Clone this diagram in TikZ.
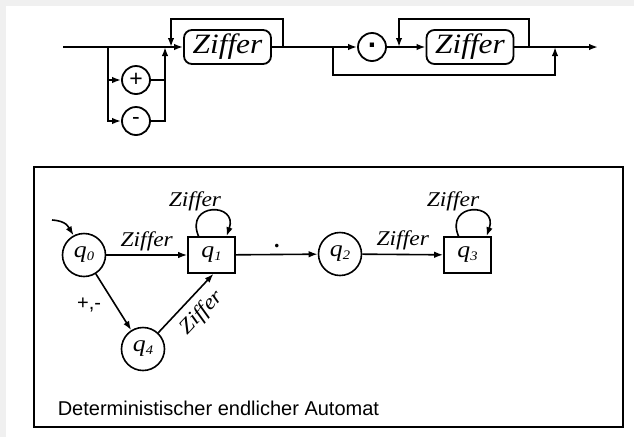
\documentclass[tikz,border=0pt]{standalone}
\usepackage{fontspec}
\setmainfont{Liberation Serif}
\setsansfont{Liberation Sans}
\newfontfamily\zfont[FakeStretch=1.12]{Liberation Serif}
\usetikzlibrary{arrows.meta}
\newcommand{\qsub}[1]{{\zfont\itshape\fontsize{23}{23}\selectfont q\raisebox{-3pt}{\fontsize{13}{13}\selectfont #1}}}
\begin{document}
\begin{tikzpicture}[x=1pt,y=-1pt,line width=1.6pt,
  >={Latex[length=9pt,width=6.5pt]},
  zbox/.style={draw,line width=1.8pt,rounded corners=8pt,minimum width=87pt,minimum height=34pt,inner sep=0pt,font=\zfont\itshape\fontsize{28}{28}\selectfont},
  tcirc/.style={draw,line width=1.8pt,circle,minimum size=28pt,inner sep=0pt,font=\sffamily\fontsize{23}{23}\selectfont},
  cstate/.style={draw,circle,minimum size=43pt,inner sep=0pt},
  rstate/.style={draw,rectangle,minimum width=47pt,minimum height=36pt,inner sep=0pt},
  lab/.style={font=\zfont\itshape\fontsize{21}{21}\selectfont,inner sep=0pt}]
% background
\fill[white] (0,0) rectangle (634,437);
\fill[black!6] (0,0) rectangle (634,6);
\fill[black!6] (0,0) rectangle (6,437);
\useasboundingbox (0,0) rectangle (634,437);

% ---------- syntax diagram ----------
\begin{scope}[line width=1.8pt]
\coordinate (s) at (63,47);
\coordinate (b1) at (108,47);
\coordinate (j1) at (165,47);
\coordinate (l1a) at (283,47);
\coordinate (t1) at (227,19);
\coordinate (l1b) at (171,47);
\coordinate (k) at (333,47);
\coordinate (bot) at (444,75);
\coordinate (j2) at (555,47);
\coordinate (l2a) at (529,47);
\coordinate (t2) at (464,19);
\coordinate (l2b) at (399,47);
\coordinate (e) at (598,47);

\node[zbox] (z1) at (227.5,47) {Ziffer};
\node[tcirc] (plus) at (136,80) {+};
\node[tcirc] (minus) at (136,121) {-};
\node[tcirc,font=\sffamily\bfseries\fontsize{30}{30}\selectfont] (dot) at (372,47) {\raisebox{4pt}{.}};
\node[zbox] (z2) at (470,47) {Ziffer};

\draw[->] (s) -- (z1.west);
\draw[->] (b1) |- (plus);
\draw[->] (b1) |- (minus);
\draw (plus.east) -- (plus.east -| j1);
\draw[->] (minus.east) -| (j1);
\draw[->] (l1a) |- (t1) -| (l1b);
\draw[->] (z1.east) -- (dot.west);
\draw[->] (k) |- (bot) -| (j2);
\draw[->] (dot.east) -- (z2.west);
\draw[->] (l2a) |- (t2) -| (l2b);
\draw[->] (z2.east) -- (e);
\end{scope}

% ---------- automaton ----------
\draw[line width=2.2pt] (34,167) rectangle (623,427);

\node[cstate] (q0) at (84,255) {\qsub{0}};
\node[rstate] (q1) at (211.5,255) {\qsub{1}};
\node[cstate] (q2) at (340,254) {\qsub{2}};
\node[rstate] (q3) at (467.5,255) {\qsub{3}};
\node[cstate] (q4) at (143,349) {\qsub{4}};
\coordinate (init) at (52,220);

\draw[->] (init) .. controls +(15,1) and +(-5,-8) .. (q0.118);
\draw[->] (q0) -- node[lab,anchor=base,yshift=9pt] {Ziffer} (q1);
\draw[->] (q1) -- node[anchor=base,yshift=7pt,font=\bfseries\fontsize{22}{22}\selectfont] {.} (q2);
\draw[->] (q2) -- node[lab,anchor=base,yshift=9pt] {Ziffer} (q3);
\draw[->] (q0) -- node[pos=0.55,left=10pt,font=\sffamily\fontsize{20}{20}\selectfont] {+,-} (q4);
\draw[->] (q4) -- node[lab,pos=0.55,sloped,below=8pt] {Ziffer} ([xshift=2pt]q1.south);

\draw[->] ([xshift=-13pt]q1.north) .. controls +(-14,-34) and +(12,-34) .. ([xshift=15pt]q1.north);
\node[lab,anchor=base] (lz1) at (195,206) {Ziffer};
\draw[->] ([xshift=-9pt]q3.north) .. controls +(-14,-34) and +(12,-34) .. ([xshift=19pt]q3.north);
\node[lab,anchor=base] (lz3) at (453,206) {Ziffer};

\node[font=\sffamily\fontsize{20}{20}\selectfont,anchor=base west,inner sep=0pt] (cap) at (57,415) {Deterministischer endlicher Automat};
\end{tikzpicture}
\end{document}
